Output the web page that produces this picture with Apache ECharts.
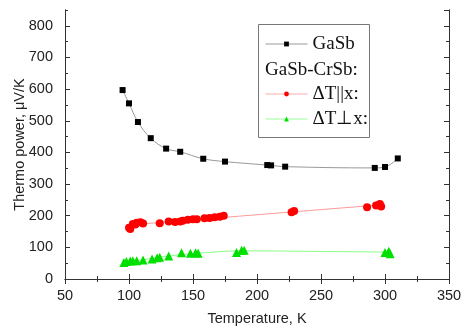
<!DOCTYPE html>
<html>
<head>
<meta charset="utf-8">
<script src="https://cdn.jsdelivr.net/npm/echarts@6/dist/echarts.min.js"></script>
<style>
  html, body { margin: 0; padding: 0; background: #fff; }
  #chart { width: 462px; height: 327px; }
</style>
</head>
<body>
<div id="chart"></div>
<script>
// GaSb (black squares)
const gasbT = [95, 100, 107, 117, 129, 140, 158, 175, 208, 211, 222, 292, 300, 310];
const gasbS = [597, 555, 496, 445, 412, 402, 380, 371, 360, 359, 355, 351, 354, 381];

// GaSb-CrSb, dT || x (red circles)
const parT = [100, 101, 103, 105, 106, 109, 111, 124, 131, 136, 140, 142, 146, 150, 153, 159, 163, 167, 171, 174, 227, 229, 286, 293, 295, 296, 297];
const parS = [162, 158, 174, 172, 178, 179, 175, 176, 182, 180, 182, 184, 187, 189, 189, 192, 193, 195, 197, 200, 211, 215, 227, 232, 234, 237, 229];

// GaSb-CrSb, dT ⊥ x (green triangles)
const perpT = [96, 98, 101, 103, 106, 111, 118, 122, 124, 131, 141, 148, 152, 154, 184, 188, 190, 300, 303, 304];
const perpS = [52, 55, 57, 58, 58, 60, 63, 67, 69, 73, 83, 81, 83, 81, 84, 91, 91, 84, 88, 80];

// smooth guide line through the green points
const perpFitT = [95, 110, 130, 155, 190, 250, 304];
const perpFitS = [50, 60, 72, 82, 89, 87, 85];

const xTicks = { min: 50, max: 350, step: 50 };
const yTicks = { min: 0, max: 850, step: 100 };

const zip = (a, b) => a.map((v, i) => [v, b[i]]);

// straight fit for the red points
function linFit(xs, ys) {
  const n = xs.length;
  const mx = xs.reduce((s, v) => s + v, 0) / n;
  const my = ys.reduce((s, v) => s + v, 0) / n;
  let num = 0, den = 0;
  xs.forEach((x, i) => { num += (x - mx) * (ys[i] - my); den += (x - mx) * (x - mx); });
  const k = num / den;
  const x0 = Math.min(...xs), x1 = Math.max(...xs);
  return [[x0, my + k * (x0 - mx)], [x1, my + k * (x1 - mx)]];
}

const axisColor = '#333';
const sans = '"Liberation Sans", Arial, sans-serif';
const serif = '"Liberation Serif", "Times New Roman", serif';
const lblStyle = { color: '#222', fontSize: 14.5, fontFamily: sans };

function yAx(pos, len, interval, labels) {
  return {
    type: 'value', position: pos, min: yTicks.min, max: yTicks.max, interval: interval,
    name: labels ? 'Thermo power, μV/K' : '', nameLocation: 'middle', nameGap: 38,
    nameMoveOverlap: false,
    nameTextStyle: lblStyle,
    axisLine: { show: true, lineStyle: { color: axisColor, width: 1 } },
    axisTick: { show: true, inside: true, length: len, lineStyle: { color: axisColor } },
    axisLabel: { show: labels, margin: 12, ...lblStyle, showMaxLabel: false,
      formatter: v => (v > 800 ? '' : String(v)) },
    splitLine: { show: false }
  };
}

function xAx(pos, labels) {
  return {
    type: 'value', position: pos, min: xTicks.min, max: xTicks.max, interval: xTicks.step,
    name: labels ? 'Temperature, K' : '', nameLocation: 'middle', nameGap: 32,
    nameMoveOverlap: false,
    nameTextStyle: lblStyle,
    axisLine: { show: true, lineStyle: { color: axisColor, width: 1 } },
    axisTick: { show: true, inside: true, length: 5, lineStyle: { color: axisColor } },
    minorTick: { show: true, splitNumber: 2, length: 3, lineStyle: { color: axisColor } },
    axisLabel: { show: labels, margin: 9, ...lblStyle },
    splitLine: { show: false }, minorSplitLine: { show: false }
  };
}

const legendText = { fontFamily: serif, fontSize: 19, color: '#111', lineHeight: 20 };

const chart = echarts.init(document.getElementById('chart'));
chart.setOption({
  animation: false,
  backgroundColor: '#fff',
  grid: { left: 65, right: 13, top: 10, bottom: 48, outerBoundsMode: 'none' },
  xAxis: [xAx('bottom', true), xAx('top', false)],
  yAxis: [
    yAx('left', 5, yTicks.step, true),
    yAx('left', 3, yTicks.step / 2, false),
    yAx('right', 5, yTicks.step, false),
    yAx('right', 3, yTicks.step / 2, false)
  ],
  legend: [
    {
      left: 265, top: 34, orient: 'vertical', padding: 0,
      itemWidth: 42, itemHeight: 6, itemGap: 5,
      textStyle: legendText,
      data: [{ name: 'GaSb', lineStyle: { color: '#999', width: 1, opacity: 1 } }]
    },
    {
      left: 265, top: 84, orient: 'vertical', padding: 0,
      itemWidth: 42, itemHeight: 6, itemGap: 5,
      textStyle: legendText,
      data: [
        { name: 'ΔT||x:', lineStyle: { color: '#ffaaaa', width: 1, opacity: 1 } },
        { name: 'ΔT⊥x:', lineStyle: { color: '#99ff99', width: 1, opacity: 1 } }
      ]
    }
  ],
  graphic: [
    { type: 'rect', left: 258, top: 24, z: 0,
      shape: { width: 111, height: 113 },
      style: { fill: '#fff', stroke: '#777', lineWidth: 1 } },
    { type: 'text', left: 265, top: 61, z: 10,
      style: { text: 'GaSb-CrSb:', font: '19px ' + serif, fill: '#111' } }
  ],
  series: [
    {
      name: 'GaSb', type: 'line', data: zip(gasbT, gasbS), smooth: 0.4,
      symbol: 'rect', symbolSize: 6, z: 5,
      itemStyle: { color: '#000' },
      lineStyle: { color: '#999', width: 1 }
    },
    {
      name: 'ΔT||x-fit', type: 'line', data: linFit(parT, parS),
      showSymbol: false, symbol: 'none', z: 3,
      lineStyle: { color: '#ff9a9a', width: 1 }
    },
    {
      name: 'ΔT||x:', type: 'line', data: zip(parT, parS),
      symbol: 'circle', symbolSize: 8, z: 4,
      itemStyle: { color: '#ff0000' },
      lineStyle: { opacity: 0 }
    },
    {
      name: 'ΔT⊥x-fit', type: 'line', data: zip(perpFitT, perpFitS), smooth: 0.4,
      showSymbol: false, symbol: 'none', z: 3,
      lineStyle: { color: '#88ff88', width: 1 }
    },
    {
      name: 'ΔT⊥x:', type: 'line', data: zip(perpT, perpS),
      symbol: 'triangle', symbolSize: 9, z: 4,
      itemStyle: { color: '#00e000' },
      lineStyle: { opacity: 0 }
    }
  ]
});
</script>
</body>
</html>
